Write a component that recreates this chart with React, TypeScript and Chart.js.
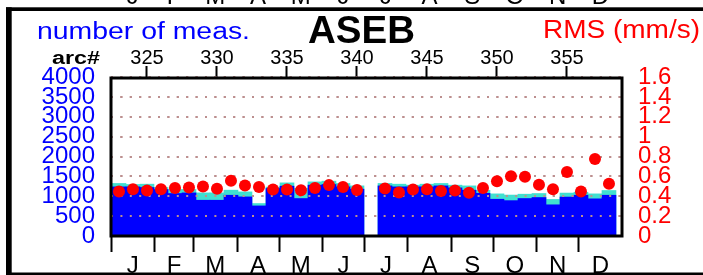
import React, { useEffect, useRef } from 'react';
import { Chart, registerables } from 'chart.js';

Chart.register(...registerables);

// ---- data ----
const arcs = [323, 324, 325, 326, 327, 328, 329, 330, 331, 332, 333, 334, 335, 336, 337, 338, 339, 340, 341, 342, 343, 344, 345, 346, 347, 348, 349, 350, 351, 352, 353, 354, 355, 356, 357, 358];
const measTotal = [1322, 1296, 1304, 1220, 1170, 1170, 1085, 1085, 1153, 1110, 817, 1230, 1337, 1200, 1362, 1380, 1322, 1261, null, 1322, 1304, 1279, 1304, 1322, 1279, 1261, 1150, 1060, 1030, 1052, 1069, 920, 1080, 1100, 1060, 1145];
const measUsed = [1236, 1236, 1220, 1170, 1069, 1085, 900, 900, 1026, 984, 757, 1195, 1253, 943, 1279, 1296, 1236, 1178, null, 1261, 1236, 1236, 1236, 1261, 1211, 1153, 1075, 925, 890, 943, 968, 785, 980, 1026, 935, 1026];
const rmsValues = [0.448, 0.471, 0.458, 0.471, 0.484, 0.488, 0.498, 0.476, 0.555, 0.507, 0.494, 0.468, 0.468, 0.461, 0.484, 0.512, 0.494, 0.463, null, 0.478, 0.438, 0.468, 0.471, 0.454, 0.458, 0.436, 0.484, 0.552, 0.602, 0.597, 0.515, 0.471, 0.643, 0.448, 0.774, 0.525];

const countTicks = [0, 500, 1000, 1500, 2000, 2500, 3000, 3500, 4000];
const rmsTicks = [0, 0.2, 0.4, 0.6, 0.8, 1, 1.2, 1.4, 1.6];
const arcTicks = [325, 330, 335, 340, 345, 350, 355];
const monthLabels = ['J', 'F', 'M', 'A', 'M', 'J', 'J', 'A', 'S', 'O', 'N', 'D'];
const monthStarts = [0, 31, 59, 90, 120, 151, 181, 212, 243, 273, 304, 334, 365];
const arcAxisMin = 322.43;
const arcAxisMax = 358.93;

const FONT = "'Liberation Sans', Arial, Helvetica, sans-serif";

const monthMids = monthLabels.map((_, i) => (monthStarts[i] + monthStarts[i + 1]) / 2);
const monthTickValues = monthStarts.slice(0, 12);

function drawStretched(ctx: CanvasRenderingContext2D, text: string, font: string, color: string, x: number, y: number, targetW: number) {
  ctx.save();
  ctx.font = font;
  ctx.fillStyle = color;
  ctx.textAlign = 'left';
  ctx.textBaseline = 'alphabetic';
  const w = ctx.measureText(text).width;
  ctx.translate(x, y);
  ctx.scale(targetW / w, 1);
  ctx.fillText(text, 0, 0);
  ctx.restore();
}

const gridOverBars = {
  id: 'gridOverBars',
  beforeDatasetDraw(chart: any, args: any) {
    if (args.index === 0) {
      chart.scales.y.drawGrid(chart.chartArea);
    }
  },
};

const decor = {
  id: 'decor',
  afterDraw(chart: any) {
    const ctx: CanvasRenderingContext2D = chart.ctx;
    const ca = chart.chartArea;
    ctx.save();
    // plot frame
    ctx.strokeStyle = '#000';
    ctx.lineWidth = 3;
    ctx.setLineDash([]);
    ctx.strokeRect(ca.left, ca.top + 1, ca.right - ca.left, ca.bottom - ca.top - 1);
    // outer panel frame
    ctx.fillStyle = '#000';
    ctx.fillRect(6, 7.3, 697, 3.7);
    ctx.fillRect(6, 7.3, 5.7, 268);
    ctx.fillRect(6, 272.5, 697, 2.5);
    // headings
    drawStretched(ctx, 'number of meas.', `23px ${FONT}`, '#0000ff', 37, 39.3, 213);
    drawStretched(ctx, 'ASEB', `bold 39px ${FONT}`, '#000', 308, 43, 107);
    drawStretched(ctx, 'RMS (mm/s)', `25.5px ${FONT}`, '#ff0000', 543, 37.7, 157);
    drawStretched(ctx, 'arc#', `bold 18px ${FONT}`, '#000', 52, 64, 48);
    // month labels of panel above (cut off)
    const xs = chart.scales.x;
    ctx.font = `24px ${FONT}`;
    ctx.fillStyle = '#000';
    ctx.textAlign = 'center';
    ctx.textBaseline = 'alphabetic';
    monthLabels.forEach((m, i) => {
      ctx.fillText(m, xs.getPixelForValue(monthMids[i]), 4);
    });
    ctx.restore();
  },
};

export default function App() {
  const ref = useRef<HTMLCanvasElement>(null);
  useEffect(() => {
    const canvas = ref.current;
    if (!canvas) return;
    const chart = new Chart(canvas, {
      type: 'bar',
      data: {
        datasets: [
          {
            type: 'scatter',
            label: 'RMS',
            data: arcs.map((a, i) => ({ x: a, y: rmsValues[i] })),
            xAxisID: 'xa',
            yAxisID: 'y2',
            backgroundColor: '#ff0000',
            pointBackgroundColor: '#ff0000',
            pointBorderWidth: 0,
            borderWidth: 0,
            pointRadius: 6,
            order: 0,
          } as any,
          {
            type: 'bar',
            label: 'used',
            data: arcs.map((a, i) => ({ x: a, y: measUsed[i] })),
            xAxisID: 'xa',
            yAxisID: 'y',
            backgroundColor: '#0000ff',
            borderWidth: 0,
            barPercentage: 1,
            categoryPercentage: 1,
            grouped: false,
            order: 1,
          } as any,
          {
            type: 'bar',
            label: 'total',
            data: arcs.map((a, i) => ({ x: a, y: measTotal[i] })),
            xAxisID: 'xa',
            yAxisID: 'y',
            backgroundColor: '#40e0d0',
            borderWidth: 0,
            barPercentage: 1,
            categoryPercentage: 1,
            grouped: false,
            order: 2,
          } as any,
        ],
      },
      options: {
        responsive: false,
        animation: false,
        devicePixelRatio: 1,
        events: [],
        layout: { padding: 0 },
        plugins: {
          legend: { display: false },
          tooltip: { enabled: false },
          title: { display: false },
        },
        scales: {
          x: {
            type: 'linear',
            position: 'bottom',
            offset: false,
            min: 0,
            max: 365,
            afterBuildTicks: (s: any) => {
              s.ticks = [...monthTickValues, ...monthMids].sort((a, b) => a - b).map((v) => ({ value: v }));
            },
            afterFit: (s: any) => { s.height = 39; },
            grid: {
              offset: false,
              drawOnChartArea: false,
              drawTicks: true,
              tickLength: 16,
              tickWidth: 2,
              tickColor: (c: any) => (c.tick && monthMids.includes(c.tick.value) ? 'rgba(0,0,0,0)' : '#000'),
            },
            border: { display: false },
            ticks: {
              autoSkip: false,
              maxRotation: 0,
              minRotation: 0,
              padding: 2.6,
              color: '#000',
              font: { family: FONT, size: 24, lineHeight: 1 },
              callback: (v: any) => {
                const i = monthMids.indexOf(Number(v));
                return i >= 0 ? monthLabels[i] : '';
              },
            },
          },
          xa: {
            type: 'linear',
            position: 'top',
            offset: false,
            min: arcAxisMin,
            max: arcAxisMax,
            afterBuildTicks: (s: any) => { s.ticks = arcTicks.map((v) => ({ value: v })); },
            afterFit: (s: any) => { s.height = 77; },
            grid: { offset: false, drawOnChartArea: false, drawTicks: true, tickLength: 11, tickWidth: 2, tickColor: '#000' },
            border: { display: false },
            ticks: {
              autoSkip: false,
              maxRotation: 0,
              minRotation: 0,
              padding: 0,
              color: '#000',
              font: { family: FONT, size: 20, lineHeight: 0.76 },
              callback: (v: any) => String(v),
            },
          },
          y: {
            type: 'linear',
            position: 'left',
            min: 0,
            max: 4000,
            afterBuildTicks: (s: any) => { s.ticks = countTicks.map((v) => ({ value: v })); },
            afterFit: (s: any) => { s.width = 111; },
            grid: { color: '#bc8f8f', lineWidth: 2, drawTicks: false },
            border: { display: false, dash: [2, 7.4] },
            ticks: {
              autoSkip: false,
              padding: 16,
              color: '#0000ff',
              font: { family: FONT, size: 24, lineHeight: 0.8 },
              callback: (v: any) => String(v),
            },
          },
          y2: {
            type: 'linear',
            position: 'right',
            min: 0,
            max: 1.6,
            afterBuildTicks: (s: any) => { s.ticks = rmsTicks.map((v) => ({ value: v })); },
            afterFit: (s: any) => { s.width = 81; },
            grid: { display: false, drawTicks: false },
            border: { display: false },
            ticks: {
              autoSkip: false,
              padding: 16,
              color: '#ff0000',
              font: { family: FONT, size: 24, lineHeight: 0.8 },
              callback: (v: any) => String(v),
            },
          },
        },
      } as any,
      plugins: [gridOverBars, decor],
    });
    return () => chart.destroy();
  }, []);
  return (
    <div style={{ position: 'absolute', left: 0, top: 0, width: 703, height: 275, background: '#fff' }}>
      <canvas ref={ref} width={703} height={275} style={{ display: 'block', width: 703, height: 275 }} />
    </div>
  );
}
